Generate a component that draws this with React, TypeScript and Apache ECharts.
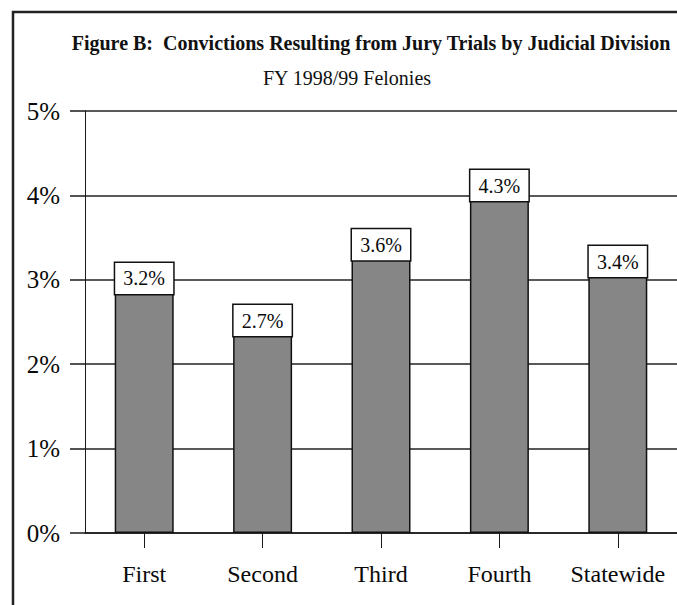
import React, { useEffect, useRef } from 'react';
import * as echarts from 'echarts';

const categories = ['First', 'Second', 'Third', 'Fourth', 'Statewide'];
const values = [3.2, 2.7, 3.6, 4.3, 3.4];
const yMin = 0;
const yMax = 5;
const yStep = 1;
const titleText = 'Figure B:  Convictions Resulting from Jury Trials by Judicial Division';
const subtitleText = 'FY 1998/99 Felonies';

const FONT = '"Liberation Serif", "Times New Roman", serif';

export default function App() {
  const ref = useRef<HTMLDivElement>(null);
  useEffect(() => {
    document.body.style.margin = '0';
    const chart = echarts.init(ref.current!, null, { renderer: 'svg' });
    chart.setOption({
      animation: false,
      backgroundColor: '#fff',
      grid: { left: 85, top: 111, width: 595, height: 422 },
      xAxis: {
        type: 'category',
        data: categories,
        axisLine: { show: true, lineStyle: { color: '#1a1a1a', width: 1.5 } },
        axisTick: { show: true, alignWithLabel: true, length: 15, lineStyle: { color: '#1a1a1a', width: 1 } },
        axisLabel: {
          interval: 0,
          hideOverlap: false,
          margin: 29,
          fontSize: 24,
          fontFamily: FONT,
          color: '#0a0a0a',
        },
      },
      yAxis: {
        type: 'value',
        min: yMin,
        max: yMax,
        interval: yStep,
        axisLine: { show: true, lineStyle: { color: '#1a1a1a', width: 1 } },
        axisTick: { show: true, length: 15, lineStyle: { color: '#1a1a1a', width: 1.5 } },
        axisLabel: {
          formatter: '{value}%',
          margin: 25,
          fontSize: 25,
          fontFamily: FONT,
          color: '#0a0a0a',
          padding: [6, 0, 0, 0],
        },
        splitLine: { show: true, lineStyle: { color: '#222', width: 1.5 } },
      },
      series: [
        {
          type: 'bar',
          data: values,
          barWidth: 59,
          itemStyle: { color: '#868686', borderColor: '#111', borderWidth: 1.5 },
          label: {
            show: true,
            position: 'insideTop',
            distance: 0,
            formatter: '{c}%',
            backgroundColor: '#fff',
            borderColor: '#111',
            borderWidth: 1.5,
            width: 58,
            height: 31,
            lineHeight: 31,
            align: 'center',
            fontSize: 20,
            fontFamily: FONT,
            color: '#0a0a0a',
          },
        },
      ],
      graphic: [
        {
          type: 'polyline',
          shape: { points: [[13, 605], [13, 12], [677, 12]] },
          style: { stroke: '#222', lineWidth: 2.5, fill: 'none' },
        },
        {
          type: 'text',
          x: 371,
          y: 43,
          style: {
            text: titleText,
            font: `bold 20px ${FONT}`,
            fill: '#111',
            textAlign: 'center',
            textVerticalAlign: 'middle',
          },
        },
        {
          type: 'text',
          x: 347,
          y: 78,
          style: {
            text: subtitleText,
            font: `20px ${FONT}`,
            fill: '#111',
            textAlign: 'center',
            textVerticalAlign: 'middle',
          },
        },
      ],
    });
    return () => chart.dispose();
  }, []);
  return <div ref={ref} style={{ width: 677, height: 605 }} />;
}
